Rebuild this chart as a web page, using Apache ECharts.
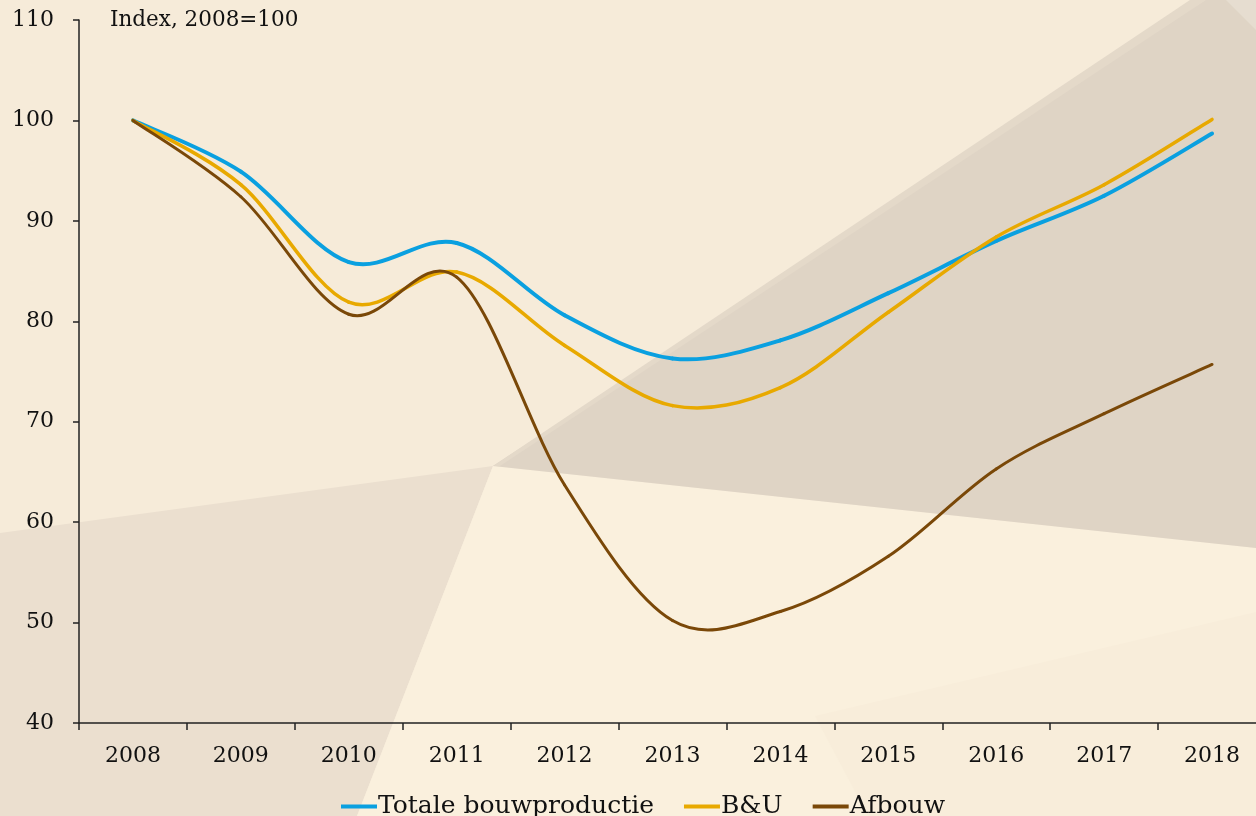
<!DOCTYPE html>
<html>
<head>
<meta charset="utf-8">
<script src="https://cdn.jsdelivr.net/npm/echarts@6/dist/echarts.min.js"></script>
<style>
  html, body { margin: 0; padding: 0; }
  #chart { width: 1256px; height: 816px; }
</style>
</head>
<body>
<div id="chart"></div>
<script>
// jaren
const years = ['2008','2009','2010','2011','2012','2013','2014','2015','2016','2017','2018'];
// index 2008=100
const totaal = [100, 94.9, 85.9, 87.8, 80.6, 76.3, 78.1, 82.8, 88.0, 92.5, 98.7];
const bu     = [100, 93.6, 81.9, 84.9, 77.6, 71.6, 73.4, 80.9, 88.4, 93.6, 100.1];
const afbouw = [100, 92.4, 80.7, 84.4, 63.7, 50.2, 51.1, 56.6, 65.3, 70.8, 75.7];

const font = 'DejaVu Serif';
const myChart = echarts.init(document.getElementById('chart'));

// achtergrondvlakken
const shapes = [
    { pts: [[0,533],[493,466],[357,816],[0,816]], color: '#EBDFCF' },
    { pts: [[493,466],[1256,548],[1256,816],[357,816]], color: '#FAF0DD' },
    { pts: [[815,716],[1256,612],[1256,816],[868,816]], color: '#F8EDDA' },
    { pts: [[493,466],[1205,0],[1256,0],[1256,548]], color: '#DFD4C5' },
    { pts: [[493,466],[1190,0],[1206,0],[500,466]], color: '#E4D9C9' },
    { pts: [[1226,0],[1256,0],[1256,30]], color: '#E6DDD0' }
];

// vloeiende lijn zoals in Excel: per segment een bezier door de jaarpunten
const lijn = (name, data, color, width) => ({
    name: name,
    type: 'custom',
    data: data.map((v, i) => [years[i], v]),
    itemStyle: { color: color },
    z: 5,
    renderItem: (params, api) => {
        const n = data.length;
        const i = params.dataIndex;
        if (i >= n - 1) return null;
        const p = k => {
            k = Math.min(Math.max(k, 0), n - 1);
            return api.coord([k, data[k]]);
        };
        const p0 = p(i - 1), p1 = p(i), p2 = p(i + 1), p3 = p(i + 2);
        return {
            type: 'bezierCurve',
            shape: {
                x1: p1[0], y1: p1[1], x2: p2[0], y2: p2[1],
                cpx1: p1[0] + (p2[0] - p0[0]) / 6, cpy1: p1[1] + (p2[1] - p0[1]) / 6,
                cpx2: p2[0] - (p3[0] - p1[0]) / 6, cpy2: p2[1] - (p3[1] - p1[1]) / 6
            },
            style: { stroke: color, lineWidth: width, fill: null, lineCap: 'round' }
        };
    }
});

const option = {
    backgroundColor: '#F6EBD9',
    animation: false,
    graphic: shapes.map(s => ({
        type: 'polygon',
        z: -10,
        silent: true,
        shape: { points: s.pts },
        style: { fill: s.color }
    })).concat([{
        type: 'text',
        left: 110,
        top: 9,
        z: 10,
        style: { text: 'Index, 2008=100', font: '21.5px "' + font + '"', fill: '#111' }
    }]),
    grid: { left: 79, right: -10, top: 20, bottom: 93, outerBoundsMode: 'none' },
    legend: {
        left: 336,
        top: 789,
        icon: 'rect',
        itemWidth: 36,
        itemHeight: 4,
        itemGap: 30,
        textStyle: { fontFamily: font, fontSize: 25, color: '#111', padding: [0, 0, 0, -4] },
        data: ['Totale bouwproductie', 'B&U', 'Afbouw']
    },
    xAxis: {
        type: 'category',
        data: years,
        boundaryGap: true,
        axisLine: { lineStyle: { color: '#222', width: 1.5 } },
        axisTick: { show: true, length: 7, lineStyle: { color: '#222', width: 1.5 } },
        axisLabel: { fontFamily: font, fontSize: 22, color: '#111', margin: 22 },
        splitLine: { show: false }
    },
    yAxis: {
        type: 'value',
        min: 40,
        max: 110,
        interval: 10,
        axisLine: { show: true, lineStyle: { color: '#222', width: 1.5 } },
        axisTick: { show: true, length: 6, lineStyle: { color: '#222', width: 1.5 } },
        axisLabel: { fontFamily: font, fontSize: 22, color: '#111', margin: 25 },
        splitLine: { show: false }
    },
    series: [
        lijn('Totale bouwproductie', totaal, '#0AA0E0', 4),
        lijn('B&U', bu, '#E8A900', 3.5),
        lijn('Afbouw', afbouw, '#7A4808', 3)
    ]
};
myChart.setOption(option);
</script>
</body>
</html>
